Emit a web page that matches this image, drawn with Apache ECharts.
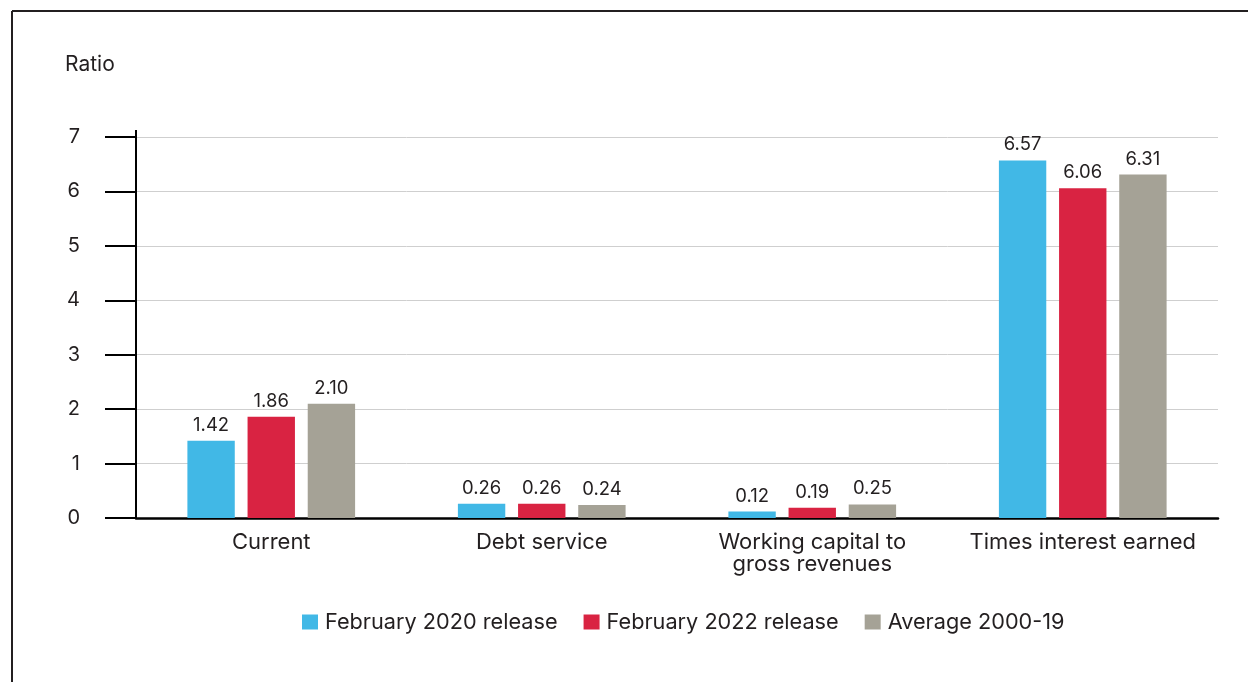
<!DOCTYPE html>
<html><head><meta charset="utf-8">
<script src="https://cdn.jsdelivr.net/npm/echarts@6/dist/echarts.min.js"></script>
<style>html,body{margin:0;padding:0;background:#fff}#c{width:1248px;height:682px}</style>
</head><body><div id="c"></div>
<script>
const categories = ['Current', 'Debt service', 'Working capital to\ngross revenues', 'Times interest earned'];
const seriesNames = ['February 2020 release', 'February 2022 release', 'Average 2000-19'];
const feb2020 = [1.42, 0.26, 0.12, 6.57];
const feb2022 = [1.86, 0.26, 0.19, 6.06];
const avg2000_19 = [2.10, 0.24, 0.25, 6.31];
const yTicks = [0, 1, 2, 3, 4, 5, 6, 7];
const colors = ['#41b8e6', '#d92342', '#a5a296'];
const FONT = 'Inter, Roboto, "Noto Sans", sans-serif';
const TXT = '#231f20';

const chart = echarts.init(document.getElementById('c'), null, {renderer: 'canvas'});
const mk = (name, data, i) => ({
  name, type: 'bar', data,
  barGap: '27%', barCategoryGap: '38%',
  itemStyle: {color: colors[i]},
  label: {show: true, position: 'top', distance: 6, color: TXT, fontFamily: FONT, fontSize: 18.5,
    formatter: p => p.value.toFixed(2)}
});
chart.setOption({
  animation: false,
  textStyle: {fontFamily: FONT},
  graphic: [
    {type: 'line', shape: {x1: 12, y1: 11, x2: 1248, y2: 11}, style: {stroke: '#231f20', lineWidth: 2}},
    {type: 'line', shape: {x1: 12, y1: 11, x2: 12, y2: 682}, style: {stroke: '#231f20', lineWidth: 2}},
    {type: 'line', shape: {x1: 136, y1: 130, x2: 136, y2: 138}, style: {stroke: '#000', lineWidth: 2}},
    {type: 'text', left: 65, top: 54, style: {text: 'Ratio', fill: TXT, font: '21px ' + FONT}}
  ],
  legend: {
    data: seriesNames, bottom: 44, left: 297,
    itemWidth: 16, itemHeight: 15, itemGap: 26, icon: 'rect',
    textStyle: {color: TXT, fontSize: 21.7, fontFamily: FONT, padding: [0, 0, 0, 2]}
  },
  grid: {left: 136, right: 30, top: 137, bottom: 164},
  xAxis: {
    type: 'category', data: categories,
    axisLine: {lineStyle: {color: '#000', width: 2.5}},
    axisTick: {show: false},
    axisLabel: {color: TXT, fontSize: 22, fontFamily: FONT, margin: 13, lineHeight: 22, interval: 0}
  },
  yAxis: {
    type: 'value', min: yTicks[0], max: yTicks[yTicks.length - 1], interval: 1,
    axisLine: {show: true, lineStyle: {color: '#000', width: 2}},
    axisTick: {show: true, length: 31, lineStyle: {color: '#000', width: 2}},
    axisLabel: {color: TXT, fontSize: 20, fontFamily: FONT, margin: 56},
    splitLine: {lineStyle: {color: '#cfcfcf', width: 1}}
  },
  series: [mk(seriesNames[0], feb2020, 0), mk(seriesNames[1], feb2022, 1), mk(seriesNames[2], avg2000_19, 2)]
});
</script></body></html>
